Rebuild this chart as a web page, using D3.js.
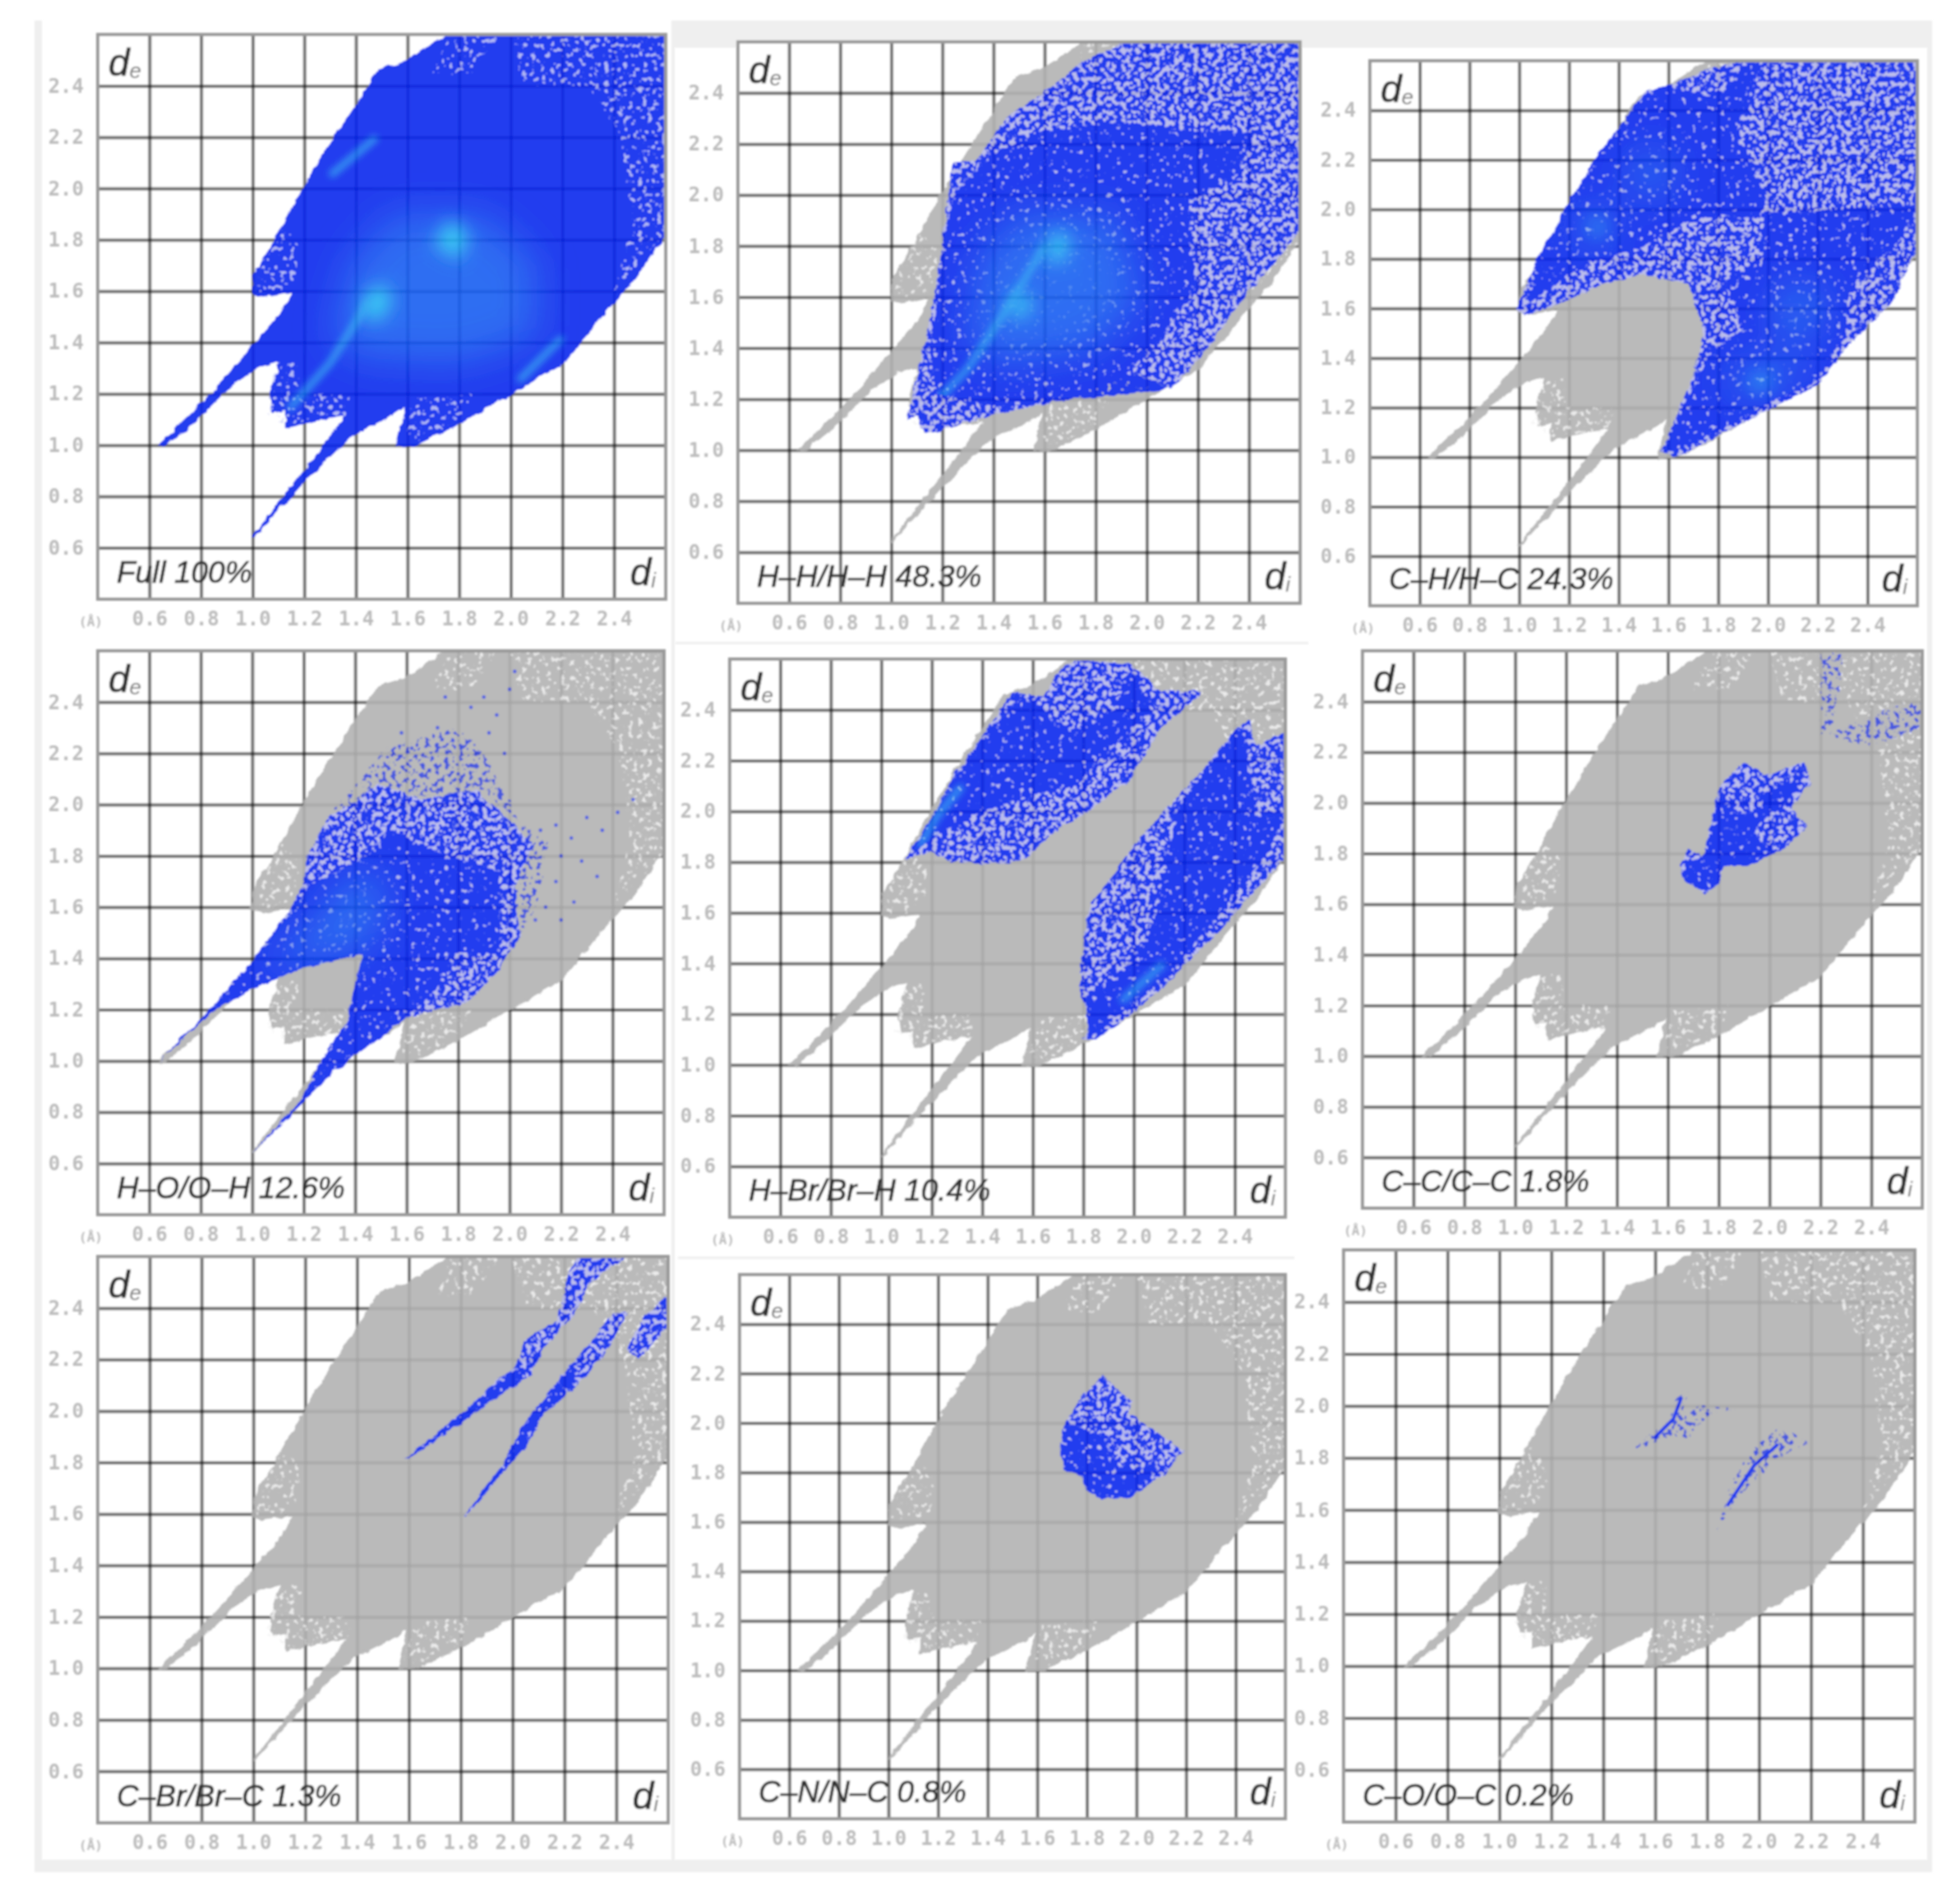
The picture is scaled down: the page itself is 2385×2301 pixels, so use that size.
<!DOCTYPE html>
<html>
<head>
<meta charset="utf-8">
<script src="https://cdn.jsdelivr.net/npm/d3@7/dist/d3.min.js"></script>
<style>
  html, body { margin: 0; background: #fff; }
  .tick text { font-family: "DejaVu Sans Mono", monospace; font-size: 24px; font-weight: bold; fill: #bcbcbc; }
  .tag { font-family: "Liberation Sans", sans-serif; font-style: italic; fill: #303030; stroke: #303030; stroke-width: 0.7px; }
</style>
</head>
<body>
<svg id="chart" width="2385" height="2301"></svg>
<script>
// All outlines are [di, de] pairs, in angstrom
var tickValues = [0.6, 0.8, 1.0, 1.2, 1.4, 1.6, 1.8, 2.0, 2.2, 2.4];
var axisRange = [0.4, 2.6];

var hull = [[.64,1.0],[.77,1.125],[.87,1.23],[1.0,1.38],[1.11,1.51],[1.16,1.6],[1.04,1.58],[1.0,1.59],[1.01,1.67],[1.11,1.84],[1.21,2.02],[1.32,2.2],[1.49,2.46],[1.59,2.49],[1.76,2.6],[2.6,2.6],[2.6,1.83],[2.48,1.65],[2.39,1.55],[2.29,1.43],[2.2,1.32],[2.03,1.22],[1.81,1.09],[1.62,1.0],[1.56,1.0],[1.6,1.16],[1.54,1.12],[1.38,1.04],[1.32,.98],[1.18,.84],[1.0,.64],[1.18,.87],[1.28,1.0],[1.37,1.12],[1.25,1.1],[1.13,1.07],[1.13,1.14],[1.08,1.13],[1.07,1.2],[1.11,1.33],[1.03,1.31],[.92,1.24],[.77,1.09],[.66,1.0]];
var hullSpeckle = [
  [[1.01,1.6],[1.04,1.72],[1.12,1.85],[1.18,1.78],[1.17,1.65],[1.1,1.6]],
  [[1.05,1.13],[1.09,1.31],[1.18,1.33],[1.18,1.2],[1.38,1.2],[1.36,1.1],[1.25,1.1],[1.13,1.08]],
  [[1.58,1.03],[1.62,1.18],[1.85,1.2],[1.8,1.1],[1.65,1.02]],
  [[1.7,2.45],[1.76,2.59],[1.95,2.6],[1.85,2.45]],
  [[2.0,2.6],[2.6,2.6],[2.6,1.82],[2.4,1.6],[2.47,1.85],[2.43,2.2],[2.3,2.4],[2.05,2.4]]
];
var fullMid = [[[1.3,1.42],[1.38,1.72],[1.55,1.9],[1.9,1.9],[2.1,1.72],[2.1,1.42],[1.8,1.32],[1.42,1.34]]];
var fullHot = [[[1.42,1.5],[1.44,1.6],[1.52,1.63],[1.54,1.54],[1.48,1.48]], [[1.7,1.78],[1.76,1.88],[1.84,1.82],[1.8,1.72]]];
var fullStreaks = [[[1.14,1.14],[1.3,1.32],[1.45,1.56]], [[2.03,1.25],[2.2,1.42]], [[1.3,2.05],[1.48,2.2]]];

var hhSparse = [[1.06,1.12],[1.15,1.51],[1.2,1.8],[1.24,2.13],[1.33,2.13],[1.45,2.3],[1.66,2.45],[1.76,2.53],[1.93,2.6],[2.6,2.6],[2.6,1.87],[2.53,1.77],[2.39,1.61],[2.26,1.43],[2.1,1.24],[1.96,1.3],[1.6,1.18],[1.4,1.14],[1.13,1.06],[1.1,1.13]];
var hhSolid = [[[1.18,1.22],[1.15,1.39],[1.2,1.74],[1.24,2.0],[1.37,2.14],[1.56,2.24],[1.89,2.29],[2.14,2.25],[2.42,2.24],[2.35,2.08],[2.16,1.97],[2.19,1.64],[2.02,1.39],[1.93,1.31],[2.1,1.24],[1.73,1.2],[1.43,1.17]]];
var hhMid = [[[1.3,1.42],[1.35,1.76],[1.5,1.92],[1.88,1.92],[1.98,1.6],[1.8,1.4],[1.44,1.34]]];
var hhHot = [[[1.46,1.52],[1.47,1.6],[1.54,1.62],[1.54,1.53]], [[1.6,1.74],[1.63,1.86],[1.7,1.84],[1.68,1.74]]];
var hhStreaks = [[[1.12,1.13],[1.3,1.32],[1.45,1.55],[1.6,1.8]]];

var chSparse = [[.99,1.6],[1.02,1.57],[1.17,1.62],[1.34,1.7],[1.5,1.74],[1.68,1.7],[1.74,1.52],[1.72,1.39],[1.67,1.26],[1.57,1.02],[1.63,1.0],[2.0,1.19],[2.2,1.29],[2.33,1.46],[2.5,1.62],[2.6,1.85],[2.6,2.6],[1.93,2.6],[1.8,2.58],[1.6,2.5],[1.5,2.47],[1.43,2.36],[1.3,2.2],[1.2,2.03],[1.07,1.8]];
var chSolid = [
  [[1.04,1.62],[1.27,1.79],[1.5,1.85],[1.7,1.97],[1.97,1.97],[2.0,2.05],[1.93,2.18],[1.87,2.31],[1.97,2.58],[1.93,2.6],[1.8,2.45],[1.6,2.5],[1.5,2.46],[1.3,2.2],[1.2,2.03],[1.07,1.79]],
  [[1.58,1.03],[1.76,1.41],[1.9,1.52],[1.83,1.72],[1.98,1.78],[1.98,1.98],[2.6,2.02],[2.53,1.88],[2.33,1.69],[2.31,1.52],[2.2,1.31],[2.0,1.22],[1.77,1.09],[1.63,1.02]]
];
var chMid = [[[1.22,1.85],[1.25,2.0],[1.38,1.98],[1.36,1.88]], [[1.42,2.1],[1.5,2.25],[1.62,2.18],[1.58,2.05]], [[1.85,1.24],[1.85,1.36],[2.05,1.38],[2.18,1.45],[2.1,1.3]], [[2.02,1.5],[2.05,1.7],[2.25,1.66],[2.18,1.5]]];
var chHot = [[[1.29,1.92],[1.3,1.96],[1.34,1.94],[1.33,1.9]], [[1.94,1.28],[1.94,1.32],[2.0,1.33],[2.0,1.29]]];

var hoSparse = [[.64,1.0],[.84,1.19],[1.0,1.28],[1.19,1.36],[1.43,1.42],[1.39,1.26],[1.37,1.15],[1.29,1.04],[1.19,.85],[1.0,.64],[1.19,.83],[1.32,.96],[1.6,1.17],[1.84,1.23],[1.96,1.36],[2.04,1.49],[2.02,1.68],[2.09,1.84],[2.02,1.92],[1.87,2.06],[1.66,2.02],[1.49,2.08],[1.39,2.0],[1.29,1.95],[1.22,1.81],[1.19,1.66],[1.08,1.5],[1.0,1.39],[.84,1.21]];
var hoSolid = [[[.64,1.0],[.84,1.19],[1.0,1.28],[1.19,1.36],[1.43,1.42],[1.39,1.26],[1.37,1.15],[1.29,1.04],[1.19,.85],[1.0,.64],[1.19,.83],[1.32,.96],[1.6,1.17],[1.73,1.3],[1.78,1.42],[1.96,1.42],[1.96,1.74],[1.73,1.81],[1.53,1.9],[1.46,1.81],[1.22,1.68],[1.08,1.49],[1.0,1.39],[.84,1.21]]];
var hoMid = [[[1.02,1.36],[1.2,1.5],[1.38,1.72],[1.52,1.72],[1.48,1.46],[1.2,1.38]]];
var hoFaint = [
  [[1.32,1.98],[1.52,2.22],[1.8,2.3],[1.9,2.2],[2.05,1.92],[1.9,2.05],[1.6,2.03]],
  [[2.02,1.45],[2.1,1.6],[2.15,1.85],[2.05,1.92],[2.02,1.68]]
];
var hoScatter = [[2.12,1.9],[2.18,1.92],[2.24,1.87],[2.3,1.95],[2.36,1.9],[2.42,1.97],[2.48,2.02],[2.2,1.8],[2.28,1.78],[2.34,1.72],[2.18,1.7],[2.25,1.62],[2.14,1.6],[2.1,1.55],[2.2,1.55],[1.72,2.3],[1.78,2.25],[1.85,2.38],[1.9,2.42],[1.95,2.35],[2.0,2.45],[1.88,2.2],[1.8,2.12],[1.7,2.18],[1.62,2.22],[1.58,2.28],[1.75,2.42],[1.92,2.28],[2.02,2.52],[1.98,2.2],[1.9,2.12],[1.66,2.12]];

var hbrSparse = [
  [[1.09,1.81],[1.19,1.84],[1.28,1.8],[1.44,1.79],[1.57,1.81],[1.66,1.9],[1.82,2.0],[1.99,2.13],[2.1,2.32],[2.27,2.47],[2.1,2.48],[1.99,2.58],[1.79,2.6],[1.71,2.56],[1.64,2.45],[1.52,2.47],[1.41,2.31],[1.28,2.13],[1.21,1.99]],
  [[1.8,1.1],[1.85,1.1],[1.99,1.2],[2.15,1.34],[2.34,1.53],[2.6,1.82],[2.6,2.31],[2.48,2.26],[2.46,2.36],[2.39,2.31],[2.27,2.16],[2.12,2.0],[2.02,1.89],[1.82,1.62],[1.79,1.41],[1.79,1.26],[1.85,1.18]]
];
var hbrSolid = [
  [[1.11,1.82],[1.21,1.9],[1.38,1.99],[1.61,2.07],[1.77,2.1],[1.87,2.21],[1.97,2.31],[2.07,2.4],[1.99,2.56],[1.92,2.39],[1.74,2.32],[1.56,2.45],[1.42,2.32],[1.28,2.11],[1.21,1.99]],
  [[1.82,1.1],[2.15,1.36],[2.3,1.55],[2.53,1.84],[2.6,2.0],[2.48,1.97],[2.45,2.29],[2.4,2.32],[2.17,2.0],[2.14,1.84],[2.07,1.52],[1.97,1.39],[1.81,1.26]]
];
var hbrStreaks = [[[1.15,1.86],[1.22,1.98],[1.32,2.1]], [[1.95,1.25],[2.12,1.4]]];

var ccSparse = [
  [[1.65,1.75],[1.68,1.82],[1.74,1.79],[1.77,1.93],[1.8,2.06],[1.9,2.16],[1.98,2.11],[2.14,2.16],[2.16,2.08],[2.08,1.98],[2.15,1.91],[2.04,1.81],[1.91,1.75],[1.82,1.75],[1.8,1.68],[1.74,1.64],[1.66,1.7]]
];
var ccSolid = [[[1.66,1.75],[1.74,1.79],[1.77,1.91],[1.81,2.04],[1.87,1.95],[1.97,1.98],[1.98,2.04],[2.14,2.12],[2.08,2.01],[1.99,1.95],[1.93,1.87],[2.04,1.81],[1.91,1.75],[1.82,1.75],[1.79,1.68],[1.74,1.64],[1.66,1.7]]];
var ccFaint = [
  [[2.2,2.59],[2.29,2.59],[2.25,2.32],[2.2,2.27]],
  [[2.2,2.27],[2.31,2.3],[2.48,2.38],[2.6,2.4],[2.6,2.3],[2.39,2.22],[2.3,2.25]]
];

var cbrSparse = [
  [[1.58,1.81],[1.79,1.98],[1.95,2.13],[2.01,2.17],[2.05,2.28],[2.17,2.35],[2.21,2.51],[2.25,2.6],[2.44,2.6],[2.3,2.5],[2.24,2.38],[2.12,2.24],[2.07,2.14],[1.95,2.06],[1.81,1.96],[1.62,1.83]],
  [[1.81,1.59],[1.95,1.78],[2.05,1.96],[2.17,2.11],[2.3,2.27],[2.39,2.38],[2.44,2.38],[2.37,2.24],[2.24,2.09],[2.12,1.99],[2.05,1.86],[1.93,1.72],[1.82,1.59]],
  [[2.44,2.24],[2.51,2.37],[2.6,2.45],[2.6,2.33],[2.49,2.2]]
];
var cbrSolid = [
  [[1.58,1.81],[1.79,1.98],[1.95,2.12],[2.03,2.17],[2.05,2.14],[1.95,2.06],[1.81,1.96],[1.62,1.83]],
  [[1.81,1.59],[1.95,1.78],[2.05,1.96],[2.17,2.11],[2.24,2.17],[2.24,2.09],[2.12,1.99],[2.05,1.86],[1.93,1.72]]
];

var cnSparse = [[[1.69,1.9],[1.71,2.0],[1.78,2.11],[1.86,2.19],[1.98,2.09],[1.97,2.04],[2.07,1.97],[2.19,1.89],[2.12,1.8],[1.98,1.7],[1.86,1.69],[1.8,1.73],[1.78,1.78],[1.71,1.81]]];
var cnSolid = [[[1.69,1.9],[1.72,2.0],[1.86,1.95],[1.93,1.82],[2.1,1.82],[1.98,1.7],[1.86,1.69],[1.8,1.73],[1.78,1.78],[1.71,1.81]]];

var coFaint = [
  [[1.52,1.84],[1.65,1.94],[1.7,2.06],[1.73,2.06],[1.7,1.97],[1.77,2.0],[1.91,1.99],[1.81,1.97],[1.73,1.88],[1.62,1.88],[1.55,1.83]],
  [[1.84,1.52],[1.89,1.7],[1.97,1.83],[2.08,1.92],[2.19,1.86],[2.07,1.8],[1.99,1.72],[1.91,1.64]]
];
var coCores = [[[1.6,1.88],[1.67,1.95],[1.7,2.03]], [[1.88,1.62],[1.98,1.77],[2.07,1.85]]];

var panelLabels = ['Full 100%', 'H\u2013H/H\u2013H 48.3%', 'C\u2013H/H\u2013C 24.3%', 'H\u2013O/O\u2013H 12.6%', 'H\u2013Br/Br\u2013H 10.4%', 'C\u2013C/C\u2013C 1.8%', 'C\u2013Br/Br\u2013C 1.3%', 'C\u2013N/N\u2013C 0.8%', 'C\u2013O/O\u2013C 0.2%'];
var panelLayers = [
  {full: true, mid: fullMid, hot: fullHot, streaks: fullStreaks},
  {sparse: [hhSparse], solid: hhSolid, mid: hhMid, hot: hhHot, streaks: hhStreaks},
  {sparse: [chSparse], solid: chSolid, mid: chMid, hot: chHot},
  {sparse: [hoSparse], faint: hoFaint, solid: hoSolid, mid: hoMid, scatter: hoScatter},
  {sparse: hbrSparse, solid: hbrSolid, streaks: hbrStreaks},
  {sparse: ccSparse, solid: ccSolid, faint: ccFaint},
  {sparse: cbrSparse, solid: cbrSolid},
  {sparse: cnSparse, solid: cnSolid},
  {faint: coFaint, cores: coCores}
];
// left, right, top, bottom of each plot frame in page pixels
var boxes = [
  [119, 810, 42, 729], [898, 1582, 51, 734], [1667, 2333, 74, 737],
  [119, 808, 792, 1478], [888, 1564, 802, 1481], [1658, 2339, 792, 1470],
  [119, 813, 1529, 2218], [900, 1564, 1551, 2213], [1635, 2330, 1521, 2217]
];

var BLUE = '#0a28ee', GREY = '#b3b3b3';
var svg = d3.select('#chart');
var defs = svg.append('defs');

function blurFilter(id, amount) {
  defs.append('filter').attr('id', id).attr('x', '-60%').attr('y', '-60%').attr('width', '220%').attr('height', '220%')
    .append('feGaussianBlur').attr('stdDeviation', amount);
}
defs.append('filter').attr('id', 'soft').attr('filterUnits', 'userSpaceOnUse')
  .attr('x', 0).attr('y', 0).attr('width', 2385).attr('height', 2301)
  .append('feGaussianBlur').attr('stdDeviation', 1.1);
blurFilter('wide', 24);
blurFilter('glow', 11);
blurFilter('streak', 4);

// edge roughness, and holes punched out of a shape where the noise is below a level
function roughFilter(id, keep) {
  var f = defs.append('filter').attr('id', id).attr('color-interpolation-filters', 'sRGB')
    .attr('x', '-6%').attr('y', '-6%').attr('width', '112%').attr('height', '112%');
  f.append('feTurbulence').attr('type', 'fractalNoise').attr('baseFrequency', 0.09).attr('numOctaves', 2).attr('seed', 4).attr('result', 'edge');
  f.append('feDisplacementMap').attr('in', 'SourceGraphic').attr('in2', 'edge').attr('scale', 7)
    .attr('xChannelSelector', 'R').attr('yChannelSelector', 'G').attr('result', 'shape');
  if (keep == null) return;
  f.append('feTurbulence').attr('type', 'fractalNoise').attr('baseFrequency', 0.17).attr('numOctaves', 2).attr('seed', 11).attr('result', 'grain');
  f.append('feColorMatrix').attr('in', 'grain').attr('type', 'matrix')
    .attr('values', '0 0 0 0 0  0 0 0 0 0  0 0 0 0 0  0 0 0 14 ' + (-14 * keep + 0.5)).attr('result', 'mask');
  f.append('feComposite').attr('in', 'shape').attr('in2', 'mask').attr('operator', 'in');
}
roughFilter('rough');
roughFilter('dense', 0.3);
roughFilter('mottle', 0.46);
roughFilter('thin', 0.58);
roughFilter('fleck', 0.63);

var root = svg.append('g').attr('filter', 'url(#soft)');

// the pale sheet the nine plots were pasted on
var frame = [[42, 25, 9, 2253], [820, 25, 1531, 33], [42, 2263, 2309, 15], [2345, 25, 6, 2253], [817, 25, 4, 2240], [822, 781, 770, 3], [825, 1529, 750, 3]];
root.selectAll('.sheet').data(frame).enter().append('rect').attr('class', 'sheet')
  .attr('x', function(d) { return d[0]; }).attr('y', function(d) { return d[1]; })
  .attr('width', function(d) { return d[2]; }).attr('height', function(d) { return d[3]; })
  .attr('fill', '#efefef');

panelLabels.forEach(function(label, i) { drawPanel(root, label, panelLayers[i], boxes[i], i); });

function drawPanel(parent, label, layers, box, i) {
  var x = d3.scaleLinear().domain(axisRange).range([box[0], box[1]]);
  var y = d3.scaleLinear().domain(axisRange).range([box[3], box[2]]);
  var line = d3.line().x(function(d) { return x(d[0]); }).y(function(d) { return y(d[1]); });
  var closed = function(d) { return line(d) + 'Z'; };
  var g = parent.append('g');

  g.append('rect').attr('x', box[0]).attr('y', box[2]).attr('width', box[1] - box[0]).attr('height', box[3] - box[2]).attr('fill', '#fff');

  var xAxis = d3.axisBottom(x).tickValues(tickValues).tickSize(-(box[3] - box[2])).tickPadding(15).tickFormat(d3.format('.1f'));
  var yAxis = d3.axisLeft(y).tickValues(tickValues).tickSize(-(box[1] - box[0])).tickPadding(17).tickFormat(d3.format('.1f'));
  [g.append('g').attr('transform', 'translate(0,' + box[3] + ')').call(xAxis),
   g.append('g').attr('transform', 'translate(' + box[0] + ',0)').call(yAxis)].forEach(function(a) {
    a.select('.domain').remove();
    a.selectAll('.tick line').attr('stroke', '#000').attr('stroke-opacity', 0.55).attr('stroke-width', 4);
  });

  defs.append('clipPath').attr('id', 'plot' + i).append('rect')
    .attr('x', box[0]).attr('y', box[2]).attr('width', box[1] - box[0]).attr('height', box[3] - box[2]);
  var marks = g.append('g').attr('clip-path', 'url(#plot' + i + ')').attr('opacity', 0.9);

  function fill(list, color, filter, opacity) {
    marks.append('g').attr('opacity', opacity == null ? 1 : opacity).selectAll('path').data(list || []).enter().append('path').attr('d', closed)
      .attr('fill', color).attr('filter', 'url(#' + filter + ')');
  }

  marks.append('path').attr('d', closed(hull)).attr('fill', layers.full ? BLUE : GREY)
    .attr('stroke', layers.full ? BLUE : GREY).attr('stroke-width', 3).attr('filter', 'url(#rough)');
  fill(hullSpeckle, layers.full ? '#c8ccf4' : '#f2f2f2', 'fleck', 0.85);
  fill(layers.sparse, '#b4b6ea', 'rough');
  fill(layers.faint, '#3346dc', 'thin');
  fill(layers.sparse, BLUE, 'mottle');
  fill(layers.solid, BLUE, 'dense');

  if (layers.mid || layers.hot || layers.streaks) {
    var clipShapes = layers.full ? [hull] : (layers.solid || []);
    var clip = defs.append('clipPath').attr('id', 'core' + i);
    clip.selectAll('path').data(clipShapes).enter().append('path').attr('d', closed);
    var glow = marks.append('g').attr('clip-path', 'url(#core' + i + ')');
    glow.append('g').attr('filter', 'url(#wide)').attr('opacity', 0.8).selectAll('path').data(layers.mid || []).enter().append('path')
      .attr('d', closed).attr('fill', '#1f6cf2');
    glow.append('g').attr('filter', 'url(#glow)').selectAll('path').data(layers.hot || []).enter().append('path')
      .attr('d', closed).attr('fill', '#27c4f2');
    glow.append('g').attr('filter', 'url(#streak)').attr('opacity', 0.8).selectAll('path').data(layers.streaks || []).enter().append('path')
      .attr('d', line).attr('fill', 'none').attr('stroke', '#27aaf2').attr('stroke-width', 8);
  }
  marks.append('g').selectAll('path').data(layers.cores || []).enter().append('path')
    .attr('d', line).attr('fill', 'none').attr('stroke', BLUE).attr('stroke-width', 4).attr('stroke-linecap', 'round');
  marks.append('g').selectAll('circle').data(layers.scatter || []).enter().append('circle')
    .attr('cx', function(d) { return x(d[0]); }).attr('cy', function(d) { return y(d[1]); })
    .attr('r', 2.2).attr('fill', '#3a4ce0');

  g.append('rect').attr('x', box[0]).attr('y', box[2]).attr('width', box[1] - box[0]).attr('height', box[3] - box[2])
    .attr('fill', 'none').attr('stroke', '#9a9a9a').attr('stroke-width', 4);

  var de = g.append('text').attr('class', 'tag').attr('x', box[0] + 13).attr('y', box[2] + 50).attr('font-size', 46).text('d');
  de.append('tspan').attr('font-size', 26).attr('dy', 3).attr('fill', '#777').attr('stroke', 'none').text('e');
  var di = g.append('text').attr('class', 'tag').attr('x', box[1] - 12).attr('y', box[3] - 17).attr('font-size', 46).attr('text-anchor', 'end').text('d');
  di.append('tspan').attr('font-size', 26).attr('dy', 3).attr('fill', '#777').attr('stroke', 'none').text('i');
  g.append('text').attr('class', 'tag').attr('x', box[0] + 23).attr('y', box[3] - 20).attr('font-size', 37).text(label);
  g.append('text').attr('x', box[0] - 23).attr('y', box[3] + 33).attr('font-family', '"DejaVu Sans Mono", monospace')
    .attr('font-size', 16).attr('font-weight', 'bold').attr('fill', '#bcbcbc').text('(\u00c5)');
}
</script>
</body>
</html>
